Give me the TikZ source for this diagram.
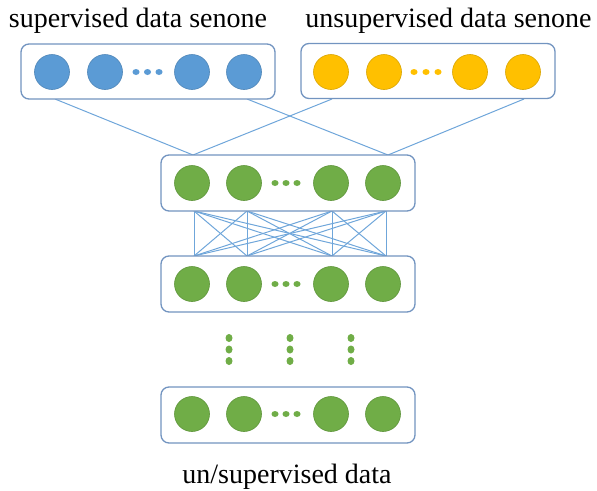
\documentclass[tikz,border=0pt]{standalone}
\usepackage{fontspec}
\usetikzlibrary{shapes.geometric}
\setmainfont{Liberation Serif}
\definecolor{blueF}{HTML}{5B9BD5}
\definecolor{blueD}{HTML}{4F86B8}
\definecolor{yelF}{HTML}{FFC000}
\definecolor{yelD}{HTML}{D9A400}
\definecolor{grnF}{HTML}{70AD47}
\definecolor{grnD}{HTML}{5E953A}
\definecolor{boxc}{HTML}{7294C0}
\definecolor{linkc}{HTML}{6FA6DA}
\begin{document}
\begin{tikzpicture}[x=1pt,y=-1pt,
  layerbox/.style={draw=boxc, line width=1.3pt, rounded corners=8pt, fill=white, minimum width=254pt, minimum height=55pt, inner sep=0pt},
  neuron/.style={circle, minimum size=35pt, inner sep=0pt, line width=0.6pt},
  bneu/.style={neuron, fill=blueF, draw=blueD},
  yneu/.style={neuron, fill=yelF, draw=yelD},
  gneu/.style={neuron, fill=grnF, draw=grnD},
  hdot/.style={ellipse, inner sep=0pt, minimum width=7pt, minimum height=6pt},
  vdot/.style={ellipse, inner sep=0pt, minimum width=7pt, minimum height=8pt, fill=grnF},
  link/.style={draw=linkc, line width=1pt},
  lbl/.style={anchor=base, font=\fontsize{28}{32}\selectfont, inner sep=0pt}]
\useasboundingbox (0,0) rectangle (597,490);

% connection points
\coordinate (tl1) at (55,99);
\coordinate (tl2) at (247,99);
\coordinate (tr1) at (332,99);
\coordinate (tr2) at (524,99);
\coordinate (m1) at (193,155);
\coordinate (m2) at (388,155);
\foreach \i/\x in {1/194,2/247,3/332,4/386}{
  \coordinate (u\i) at (\x,211);
  \coordinate (d\i) at (\x,256);
}
% links
\draw[link] (tl1) -- (m1);
\draw[link] (tr1) -- (m1);
\draw[link] (tl2) -- (m2);
\draw[link] (tr2) -- (m2);
\foreach \i in {1,...,4}{
  \foreach \j in {1,...,4}{
    \draw[link] (u\i) -- (d\j);
  }
}

% boxes
\node[layerbox] (BL) at (148,71.5) {};
\node[layerbox] (BR) at (428,71) {};
\node[layerbox, minimum height=56pt] (B1) at (288,183) {};
\node[layerbox, minimum height=56pt] (B2) at (288,284) {};
\node[layerbox, minimum height=56pt] (B3) at (288,415) {};

% top left (blue)
\foreach \k/\x in {1/52,2/105,3/192,4/244}{
  \node[bneu] (bl\k) at (\x,72) {};
}
\foreach \k/\x in {1/136,2/147.5,3/159}{
  \node[hdot, fill=blueF] (bld\k) at (\x,72) {};
}
% top right (yellow)
\foreach \k/\x in {1/331,2/384,3/470,4/523}{
  \node[yneu] (yr\k) at (\x,72) {};
}
\foreach \k/\x in {1/414,2/426,3/438}{
  \node[hdot, fill=yelF] (yrd\k) at (\x,72) {};
}
% green layers
\foreach \r/\y in {1/183,2/284,3/414}{
  \foreach \k/\x in {1/192,2/244,3/331,4/383}{
    \node[gneu] (g\r\k) at (\x,\y) {};
  }
  \foreach \k/\x in {1/275,2/286,3/297}{
    \node[hdot, fill=grnF] (gd\r\k) at (\x,\y) {};
  }
}
% vertical dots
\foreach \c/\x in {1/229,2/290,3/351}{
  \foreach \k/\y in {1/338,2/349.5,3/361}{
    \node[vdot] (vd\c\k) at (\x,\y) {};
  }
}

% labels
\node[lbl] (t1) at (138,27) {supervised data senone};
\node[lbl] (t2) at (448.5,27) {unsupervised data senone};
\node[lbl] (t3) at (287,483) {un/supervised data};
\end{tikzpicture}
\end{document}
